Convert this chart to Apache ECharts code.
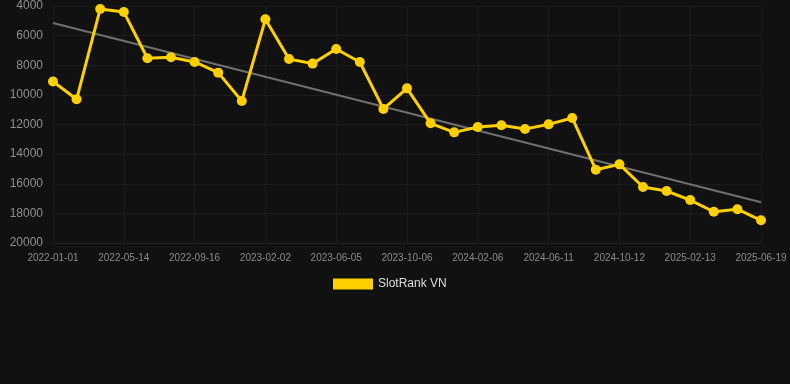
<!DOCTYPE html>
<html>
<head>
<meta charset="utf-8">
<script src="https://cdn.jsdelivr.net/npm/echarts@6/dist/echarts.min.js"></script>
<style>
html,body{margin:0;padding:0;background:#111111;}
#chart{width:790px;height:384px;}
</style>
</head>
<body>
<div id="chart"></div>
<script>
var categories = [
  '2022-01-01','2022-02-14','2022-03-30','2022-05-14','2022-06-25','2022-08-06',
  '2022-09-16','2022-10-31','2022-12-16','2023-02-02','2023-03-15','2023-04-25',
  '2023-06-05','2023-07-16','2023-08-26','2023-10-06','2023-11-16','2023-12-27',
  '2024-02-06','2024-03-18','2024-04-29','2024-06-11','2024-07-22','2024-09-01',
  '2024-10-12','2024-11-23','2025-01-03','2025-02-13','2025-03-26','2025-05-08',
  '2025-06-19'
];
var rankValues = [
  9100, 10300, 4200, 4400, 7530, 7460,
  7780, 8500, 10410, 4900, 7580, 7890,
  6900, 7780, 10950, 9560, 11920, 12530,
  12170, 12050, 12300, 11990, 11560, 15050,
  14690, 16220, 16490, 17100, 17890, 17720,
  18470
];
var trendStart = 5150;
var trendEnd = 17250;
var yTicks = [4000, 20000, 2000]; // min, max, interval
var seriesName = 'SlotRank VN';

var chart = echarts.init(document.getElementById('chart'), null, {renderer: 'canvas'});
chart.setOption({
  backgroundColor: '#111111',
  animation: false,
  grid: {left: 53, right: 29, top: 6, bottom: 141},
  legend: {
    data: [{name: seriesName, icon: 'rect'}],
    top: 278,
    left: 333,
    itemWidth: 40,
    itemHeight: 11,
    itemGap: 10,
    padding: 0,
    textStyle: {color: '#dddddd', fontSize: 12, fontFamily: 'Liberation Sans, Arial, sans-serif'}
  },
  xAxis: {
    type: 'category',
    data: categories,
    boundaryGap: false,
    axisLine: {show: true, lineStyle: {color: '#222222'}},
    axisTick: {show: false},
    axisLabel: {interval: 2, color: '#8a8a8a', fontSize: 10, margin: 10, fontFamily: 'Liberation Sans, Arial, sans-serif'},
    splitLine: {show: true, interval: 2, lineStyle: {color: '#1c1c1c'}}
  },
  yAxis: {
    type: 'value',
    inverse: true,
    min: yTicks[0],
    max: yTicks[1],
    interval: yTicks[2],
    axisLine: {show: false},
    axisTick: {show: false},
    axisLabel: {color: '#8f8f8f', fontSize: 12, margin: 10, fontFamily: 'Liberation Sans, Arial, sans-serif',
      formatter: function (v) { return String(v); }},
    splitLine: {show: true, lineStyle: {color: '#1c1c1c'}}
  },
  series: [
    {
      name: 'trend',
      type: 'line',
      data: [[categories[0], trendStart], [categories[categories.length - 1], trendEnd]],
      symbol: 'none',
      lineStyle: {color: '#707070', width: 2},
      silent: true,
      z: 1
    },
    {
      name: seriesName,
      type: 'line',
      data: rankValues,
      symbol: 'circle',
      symbolSize: 10,
      itemStyle: {color: '#FFD000'},
      lineStyle: {color: '#FFD000', width: 3},
      z: 2
    }
  ]
});
</script>
</body>
</html>
